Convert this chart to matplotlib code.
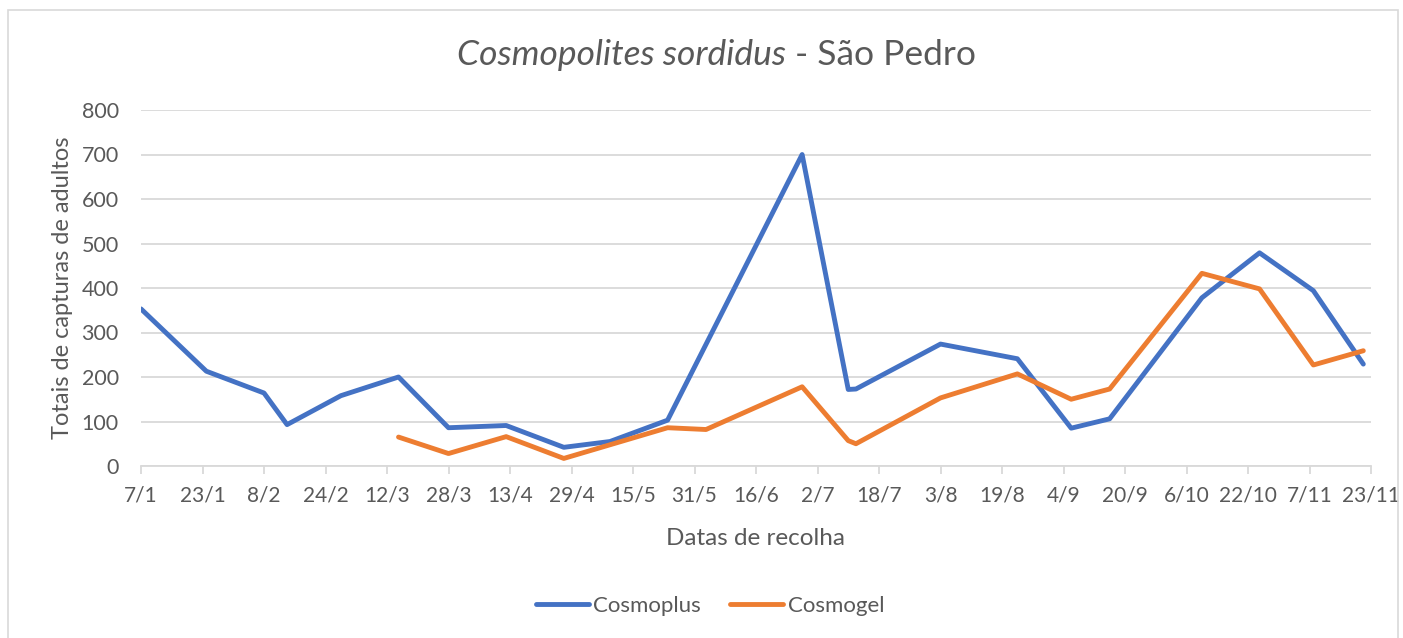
import matplotlib
matplotlib.use("Agg")
import matplotlib.pyplot as plt
import matplotlib.dates as mdates
from matplotlib.patches import Rectangle
import pandas as pd

plt.rcParams['font.family'] = ['Lato', 'DejaVu Sans']

# datas de recolha (ano fictício não bissexto)
datas_cosmoplus = ['2019-01-07', '2019-01-24', '2019-02-08', '2019-02-14', '2019-02-28',
                   '2019-03-15', '2019-03-28', '2019-04-12', '2019-04-27', '2019-05-09',
                   '2019-05-24', '2019-06-28', '2019-07-10', '2019-07-12', '2019-08-03',
                   '2019-08-23', '2019-09-06', '2019-09-16', '2019-10-10', '2019-10-25',
                   '2019-11-08', '2019-11-21']
cosmoplus = [353, 213, 164, 93, 158, 200, 86, 91, 42, 55, 103, 700, 172, 173, 274,
             241, 85, 106, 378, 479, 394, 229]

datas_cosmogel = ['2019-03-15', '2019-03-28', '2019-04-12', '2019-04-27', '2019-05-24',
                  '2019-06-03', '2019-06-28', '2019-07-10', '2019-07-12', '2019-08-03',
                  '2019-08-23', '2019-09-06', '2019-09-16', '2019-10-10', '2019-10-25',
                  '2019-11-08', '2019-11-21']
cosmogel = [65, 28, 66, 17, 86, 82, 178, 57, 50, 153, 207, 150, 173, 433, 398, 227, 259]

ticks_x = pd.date_range('2019-01-07', periods=21, freq='16D')
ticks_y = [0, 100, 200, 300, 400, 500, 600, 700, 800]

cinza = '#595959'
W, H = 1403, 638
fig = plt.figure(figsize=(W / 100, H / 100), dpi=100)
fig.patches.append(Rectangle((8 / W, -0.1), 1390 / W, 1 - 10 / H + 0.1, transform=fig.transFigure,
                             fill=False, edgecolor='#d9d9d9', linewidth=1.2))
ax = fig.add_axes([141 / W, 1 - 466 / H, 1230 / W, 356 / H])

ax.plot(pd.to_datetime(datas_cosmoplus), cosmoplus, color='#4472C4', linewidth=3.5,
        solid_joinstyle='round', solid_capstyle='round', label='Cosmoplus')
ax.plot(pd.to_datetime(datas_cosmogel), cosmogel, color='#ED7D31', linewidth=3.5,
        solid_joinstyle='round', solid_capstyle='round', label='Cosmogel')

ax.set_xlim(ticks_x[0], ticks_x[-1])
ax.set_ylim(0, 800)
ax.set_yticks(ticks_y)
ax.set_xticks(ticks_x)
ax.set_xticklabels([f'{d.day}/{d.month}' for d in ticks_x])
ax.grid(axis='y', color='#d9d9d9', linewidth=1.3)
ax.set_axisbelow(True)
for s in ['top', 'right', 'left']:
    ax.spines[s].set_visible(False)
ax.spines['bottom'].set_color('#d9d9d9')
ax.spines['bottom'].set_linewidth(1.3)
ax.tick_params(axis='x', colors='#d9d9d9', length=6, width=1.3, pad=8, labelcolor=cinza, labelsize=15)
ax.tick_params(axis='y', length=0, pad=16, labelcolor=cinza, labelsize=15.5)

ax.set_xlabel('Datas de recolha', fontsize=17.5, color=cinza, labelpad=16)
ax.set_ylabel('Totais de capturas de adultos', fontsize=17, color=cinza, labelpad=6)

fig.text(786 / W, 1 - 55 / H, 'Cosmopolites sordidus', style='italic', fontsize=25.5,
         color=cinza, ha='right', va='center')
fig.text(786 / W, 1 - 55 / H, ' - São Pedro', fontsize=25.5, color=cinza, ha='left', va='center')

fig.legend(loc='center', bbox_to_anchor=(710 / W, 1 - 606 / H), ncol=2, frameon=False,
           fontsize=16, labelcolor=cinza, handlelength=2.4, handletextpad=0.2, columnspacing=1.3)

fig.savefig('out.png', dpi=100)
